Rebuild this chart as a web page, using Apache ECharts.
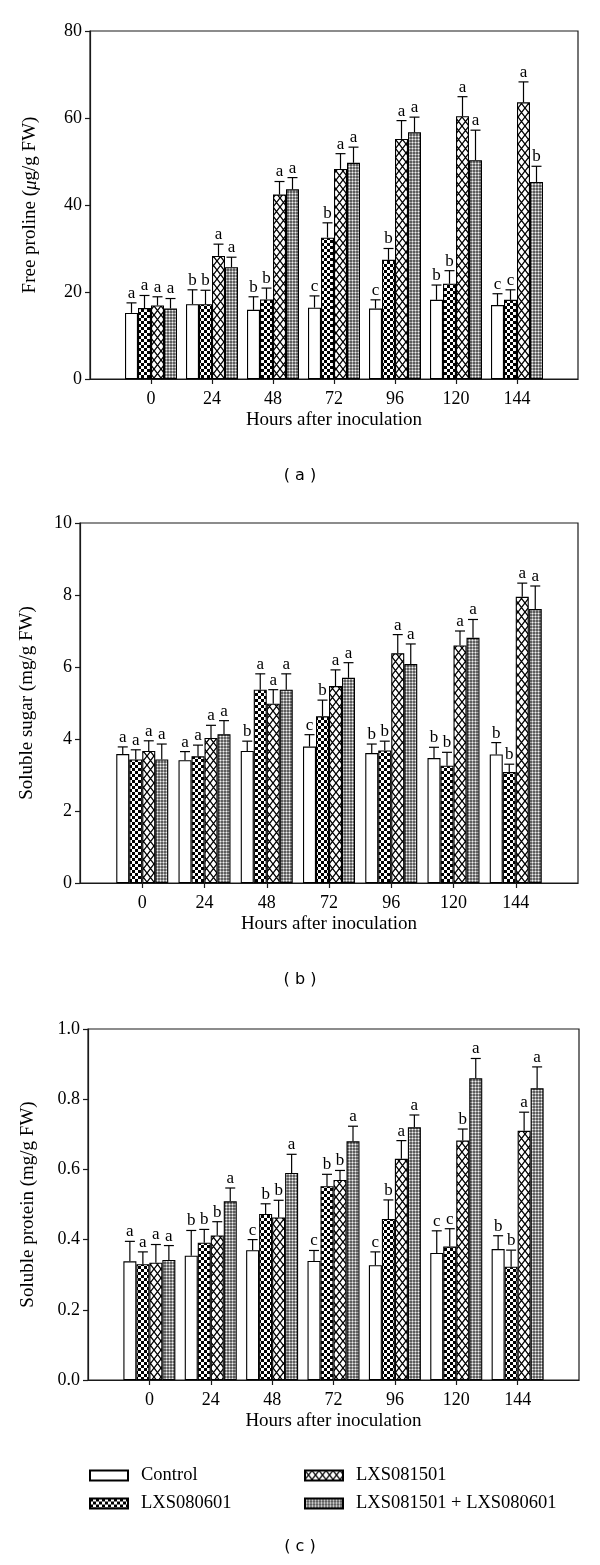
<!DOCTYPE html>
<html><head><meta charset="utf-8">
<script src="https://cdn.jsdelivr.net/npm/echarts@6/dist/echarts.min.js"></script>
<style>html,body{margin:0;padding:0;background:#fff}#c{width:600px;height:1565px}</style>
</head><body><div id="c"></div>
<script>
// ---------- DATA ----------
const categories = ['0', '24', '48', '72', '96', '120', '144'];
const seriesNames = ['Control', 'LXS080601', 'LXS081501', 'LXS081501 + LXS080601'];

// (a) Free proline (µg/g FW)
const prolineControl   = [15.2, 17.2, 15.9, 16.4, 16.2, 18.2, 17.0];
const prolineLXS0806   = [16.3, 17.2, 18.3, 32.5, 27.4, 21.9, 18.2];
const prolineLXS0815   = [16.9, 28.3, 42.4, 48.3, 55.2, 60.4, 63.6];
const prolineCombined  = [16.2, 25.7, 43.6, 49.7, 56.7, 50.3, 45.3];
const prolineControlSd  = [2.3, 3.3, 3.0, 2.7, 2.0, 3.4, 2.6];
const prolineLXS0806Sd  = [2.9, 3.2, 2.6, 3.4, 2.6, 3.0, 2.3];
const prolineLXS0815Sd  = [2.0, 2.7, 3.0, 3.5, 4.2, 4.5, 4.7];
const prolineCombinedSd = [2.3, 2.3, 2.7, 3.6, 3.5, 6.9, 3.6];
const prolineLetters = ['aaaa', 'bbaa', 'bbaa', 'cbaa', 'cbaa', 'bbaa', 'ccab'];

// (b) Soluble sugar (mg/g FW)
const sugarControl   = [3.58, 3.41, 3.67, 3.79, 3.61, 3.47, 3.57];
const sugarLXS0806   = [3.43, 3.52, 5.37, 4.63, 3.68, 3.26, 3.08];
const sugarLXS0815   = [3.67, 4.03, 4.98, 5.47, 6.38, 6.60, 7.95];
const sugarCombined  = [3.43, 4.13, 5.37, 5.70, 6.08, 6.81, 7.61];
const sugarControlSd  = [0.20, 0.24, 0.27, 0.33, 0.25, 0.30, 0.33];
const sugarLXS0806Sd  = [0.27, 0.31, 0.44, 0.45, 0.26, 0.37, 0.22];
const sugarLXS0815Sd  = [0.28, 0.35, 0.39, 0.45, 0.52, 0.40, 0.38];
const sugarCombinedSd = [0.43, 0.38, 0.44, 0.42, 0.56, 0.51, 0.64];
const sugarLetters = ['aaaa', 'aaaa', 'baaa', 'cbaa', 'bbaa', 'bbaa', 'bbaa'];

// (c) Soluble protein (mg/g FW)
const proteinControl   = [0.338, 0.354, 0.370, 0.339, 0.327, 0.362, 0.373];
const proteinLXS0806   = [0.330, 0.391, 0.473, 0.552, 0.459, 0.380, 0.323];
const proteinLXS0815   = [0.334, 0.412, 0.463, 0.570, 0.630, 0.682, 0.710];
const proteinCombined  = [0.342, 0.509, 0.590, 0.680, 0.720, 0.860, 0.831];
const proteinControlSd  = [0.057, 0.072, 0.030, 0.030, 0.038, 0.063, 0.038];
const proteinLXS0806Sd  = [0.035, 0.038, 0.029, 0.034, 0.054, 0.051, 0.047];
const proteinLXS0815Sd  = [0.052, 0.039, 0.049, 0.027, 0.052, 0.033, 0.053];
const proteinCombinedSd = [0.041, 0.038, 0.053, 0.043, 0.035, 0.056, 0.061];
const proteinLetters = ['aaaa', 'bbba', 'cbba', 'cbba', 'cbaa', 'ccba', 'bbaa'];

const xAxisTitle = 'Hours after inoculation';
const panelLabels = ['( a )', '( b )', '( c )'];

// ---------- PATTERNS ----------
function mk(w, h, draw) {
  const c = document.createElement('canvas'); c.width = w; c.height = h;
  const ctx = c.getContext('2d'); draw(ctx, w, h);
  return { image: c, repeat: 'repeat' };
}
const patterns = [
  '#ffffff',
  mk(6, 6, (ctx) => { ctx.fillStyle = '#fff'; ctx.fillRect(0,0,6,6); ctx.fillStyle = '#000'; ctx.fillRect(0,0,3,3); ctx.fillRect(3,3,3,3); }),
  mk(7, 9, (ctx, w, h) => { ctx.fillStyle = '#fff'; ctx.fillRect(0,0,w,h); ctx.strokeStyle = '#000'; ctx.lineWidth = 1.3;
      ctx.beginPath(); ctx.moveTo(0,0); ctx.lineTo(w,h); ctx.moveTo(w,0); ctx.lineTo(0,h); ctx.stroke(); }),
  mk(3, 3, (ctx) => { ctx.fillStyle = '#5e5e5e'; ctx.fillRect(0,0,3,3);
      ctx.fillStyle = '#a6a6a6'; ctx.fillRect(0,1,1,1); ctx.fillRect(2,1,1,1); ctx.fillRect(1,0,1,1); ctx.fillRect(1,2,1,1);
      ctx.fillStyle = '#f2f2f2'; ctx.fillRect(1,1,1,1); })
];

// ---------- PANELS ----------
const SERIF = '"Liberation Serif", "Times New Roman", serif';
const panels = [
  { vals: [prolineControl, prolineLXS0806, prolineLXS0815, prolineCombined],
    sds: [prolineControlSd, prolineLXS0806Sd, prolineLXS0815Sd, prolineCombinedSd],
    letters: prolineLetters, max: 80, interval: 20, fmt: v => String(v),
    yName: '{n|Free proline (}{i|μ}{n|g/g FW)}',
    grid: { left: 90, right: 22, top: 31, height: 348 }, nameGap: 50, labelY: 478 },
  { vals: [sugarControl, sugarLXS0806, sugarLXS0815, sugarCombined],
    sds: [sugarControlSd, sugarLXS0806Sd, sugarLXS0815Sd, sugarCombinedSd],
    letters: sugarLetters, max: 10, interval: 2, fmt: v => String(v),
    yName: '{n|Soluble sugar (mg/g FW)}',
    grid: { left: 80, right: 22, top: 523, height: 360 }, nameGap: 43, labelY: 982 },
  { vals: [proteinControl, proteinLXS0806, proteinLXS0815, proteinCombined],
    sds: [proteinControlSd, proteinLXS0806Sd, proteinLXS0815Sd, proteinCombinedSd],
    letters: proteinLetters, max: 1.0, interval: 0.2, fmt: v => v.toFixed(1),
    yName: '{n|Soluble protein (mg/g FW)}',
    grid: { left: 88, right: 21, top: 1029, height: 351 }, nameGap: 50, labelY: 1549 }
];

const BW = 13;
const xData = [''].concat(categories, ['']);
const grids = [], xAxes = [], yAxes = [], series = [], graphics = [];

panels.forEach((p, g) => {
  grids.push(Object.assign({ show: true, borderColor: '#1a1a1a', borderWidth: 1.2, backgroundColor: 'transparent' }, p.grid));
  xAxes.push({
    type: 'category', gridIndex: g, data: xData, boundaryGap: false,
    axisLine: { lineStyle: { color: '#1a1a1a', width: 1.2 } },
    axisTick: { interval: (i) => i > 0 && i < xData.length - 1, length: 5, lineStyle: { color: '#1a1a1a', width: 1.2 } },
    axisLabel: { interval: 0, margin: 11, color: '#000', fontFamily: SERIF, fontSize: 18 },
    name: xAxisTitle, nameLocation: 'middle', nameGap: 32,
    nameTextStyle: { color: '#000', fontFamily: SERIF, fontSize: 19 },
    splitLine: { show: false }
  });
  yAxes.push({
    type: 'value', gridIndex: g, min: 0, max: p.max, interval: p.interval,
    axisLine: { show: true, lineStyle: { color: '#1a1a1a', width: 1.2 } },
    axisTick: { show: true, length: 5, lineStyle: { color: '#1a1a1a', width: 1.2 } },
    axisLabel: { margin: 8, color: '#000', fontFamily: SERIF, fontSize: 18, formatter: p.fmt },
    splitLine: { show: false },
    name: p.yName, nameLocation: 'middle', nameRotate: 90, nameGap: p.nameGap,
    nameTextStyle: { rich: {
      n: { color: '#000', fontFamily: SERIF, fontSize: 19 },
      i: { color: '#000', fontFamily: SERIF, fontSize: 19, fontStyle: 'italic' } } }
  });
  p.vals.forEach((vals, k) => {
    series.push({
      type: 'bar', name: seriesNames[k], xAxisIndex: g, yAxisIndex: g,
      barWidth: BW, barGap: '0%',
      data: ['-'].concat(vals, ['-']),
      itemStyle: { color: patterns[k], borderColor: '#000', borderWidth: 1.1 },
      z: 2
    });
  });
  p.vals.forEach((vals, k) => {
    const sd = p.sds[k];
    series.push({
      type: 'custom', xAxisIndex: g, yAxisIndex: g, z: 5, silent: true,
      data: vals.map((v, i) => [i + 1, v, v + sd[i]]),
      renderItem: (params, api) => {
        const ci = api.value(0), v = api.value(1), top = api.value(2);
        const p0 = api.coord([ci, v]), p1 = api.coord([ci, top]);
        const x = p0[0] + (k - 1.5) * BW;
        const letter = p.letters[params.dataIndex][k];
        return { type: 'group', children: [
          { type: 'line', shape: { x1: x, y1: p0[1], x2: x, y2: p1[1] }, style: { stroke: '#000', lineWidth: 1.2 } },
          { type: 'line', shape: { x1: x - 5, y1: p1[1], x2: x + 5, y2: p1[1] }, style: { stroke: '#000', lineWidth: 1.2 } },
          { type: 'text', x: x, y: p1[1] - 1, style: { text: letter, fill: '#000', font: '17px ' + SERIF, align: 'center', verticalAlign: 'bottom' } }
        ] };
      }
    });
  });
  graphics.push({ type: 'text', left: 'center', top: p.labelY - 10, style: { text: panelLabels[g], fill: '#000', font: '16px "DejaVu Sans", sans-serif' } });
});

const legendCommon = {
  orient: 'vertical', icon: 'rect', itemWidth: 38, itemHeight: 10, itemGap: 9, padding: 0,
  textStyle: { color: '#000', fontFamily: SERIF, fontSize: 18.5, padding: [0, 0, 0, 8] }
};

const chart = echarts.init(document.getElementById('c'), null, { renderer: 'canvas' });
chart.setOption({
  animation: false,
  backgroundColor: '#fff',
  grid: grids, xAxis: xAxes, yAxis: yAxes, series: series,
  legend: [
    Object.assign({ data: [seriesNames[0], seriesNames[1]], left: 89, top: 1466 }, legendCommon),
    Object.assign({ data: [seriesNames[2], seriesNames[3]], left: 304, top: 1466 }, legendCommon)
  ],
  graphic: graphics
});
</script></body></html>
